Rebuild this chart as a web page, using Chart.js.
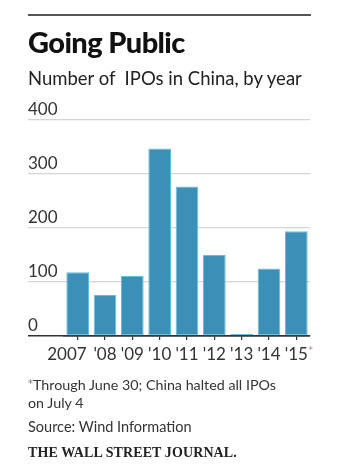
<!DOCTYPE html>
<html>
<head>
<meta charset="utf-8">
<script src="https://cdn.jsdelivr.net/npm/chart.js@4"></script>
<style>
  html, body { margin: 0; padding: 0; background: #fff; }
  #wrap { position: relative; width: 341px; height: 469px; overflow: hidden; font-family: Lato, "Open Sans", sans-serif; color: #222; }
  #chart { position: absolute; left: 0; top: 0; }
  .rule { position: absolute; left: 28px; width: 283px; top: 14px; height: 2px; background: #555; }
  .t { position: absolute; left: 28px; white-space: pre; line-height: 1; }
  #title { top: 27px; font-size: 29px; font-weight: 900; color: #111; letter-spacing: -0.6px; }
  #sub { top: 69px; font-size: 18.5px; color: #222; }
  #note { top: 376px; font-size: 14.3px; line-height: 18px; color: #333; }
  #note sup { font-family: "DejaVu Sans", sans-serif; font-size: 10px; vertical-align: 3px; line-height: 0; color: #777; }
  #src { top: 420px; font-size: 14.5px; color: #333; }
  #wsj { top: 446px; font-family: "Liberation Serif", "DejaVu Serif", serif; font-weight: bold; font-size: 14px; letter-spacing: 0.1px; color: #222; }
</style>
</head>
<body>
<div id="wrap">
  <canvas id="chart" width="341" height="469"></canvas>
  <div class="rule"></div>
  <div class="t" id="title">Going Public</div>
  <div class="t" id="sub">Number of  IPOs in China, by year</div>
  <div class="t" id="note"><sup>*</sup>Through June 30; China halted all IPOs
on July 4</div>
  <div class="t" id="src">Source: Wind Information</div>
  <div class="t" id="wsj">THE WALL STREET JOURNAL.</div>
</div>
<script>
// IPO counts per year
const years = ['2007', "'08", "'09", "'10", "'11", "'12", "'13", "'14", "'15"];
const ipoCounts = [118, 76, 111, 347, 277, 150, 0, 125, 194];
const yTicks = [0, 100, 200, 300, 400];
const markedYear = "'15"; // partial year, footnoted

const LABEL_FONT = '17px Lato, "Open Sans", sans-serif';
const TEXT_COLOR = '#333';

// Draws value labels above each gridline and year labels under the baseline
const axisLabels = {
  id: 'axisLabels',
  afterDraw(chart) {
    const { ctx, scales: { x, y } } = chart;
    ctx.save();
    ctx.fillStyle = TEXT_COLOR;
    ctx.font = LABEL_FONT;
    ctx.textAlign = 'left';
    ctx.textBaseline = 'alphabetic';
    yTicks.forEach(v => {
      ctx.fillText(String(v), 28, y.getPixelForValue(v) - 5);
    });
    ctx.textBaseline = 'middle';
    years.forEach((lab, i) => {
      const cx = x.getPixelForValue(i);
      const ty = y.getPixelForValue(0) + 19;
      if (i === 0) {
        ctx.textAlign = 'right';
        ctx.fillText(lab, cx + 9, ty);
      } else {
        ctx.textAlign = 'center';
        ctx.fillText(lab, cx, ty);
        if (lab === markedYear) {
          const w = ctx.measureText(lab).width;
          ctx.save();
          ctx.font = '9px "DejaVu Sans", sans-serif';
          ctx.fillStyle = '#888';
          ctx.textAlign = 'left';
          ctx.fillText('*', cx + w / 2 + 0.5, ty - 4);
          ctx.restore();
        }
      }
    });
    ctx.restore();
  }
};

new Chart(document.getElementById('chart'), {
  type: 'bar',
  data: {
    labels: years,
    datasets: [{
      data: ipoCounts,
      backgroundColor: '#3c90b8',
      borderColor: '#62c0e2',
      borderWidth: 1,
      borderSkipped: false,
      minBarLength: 2,
      categoryPercentage: 1,
      barPercentage: 0.83
    }]
  },
  options: {
    responsive: false,
    animation: false,
    devicePixelRatio: 1,
    layout: { padding: { left: 28, right: 31, top: 120, bottom: 129 } },
    plugins: { legend: { display: false }, tooltip: { enabled: false } },
    scales: {
      x: {
        offset: true,
        grid: {
          offset: false,
          drawOnChartArea: false,
          drawTicks: true,
          tickLength: 4,
          color: '#333',
          lineWidth: 1.2
        },
        border: { display: true, color: '#333', width: 1.5 },
        ticks: { display: false }
      },
      y: {
        min: 0,
        max: 400,
        afterBuildTicks(scale) { scale.ticks = yTicks.map(v => ({ value: v })); },
        grid: {
          drawTicks: true,
          tickLength: 36,
          color: ctx => ctx.tick && ctx.tick.value === 0 ? '#333' : '#d4d4d4',
          lineWidth: ctx => ctx.tick && ctx.tick.value === 0 ? 1.5 : 1.2
        },
        border: { display: false },
        ticks: { display: false }
      }
    }
  },
  plugins: [axisLabels]
});
</script>
</body>
</html>
